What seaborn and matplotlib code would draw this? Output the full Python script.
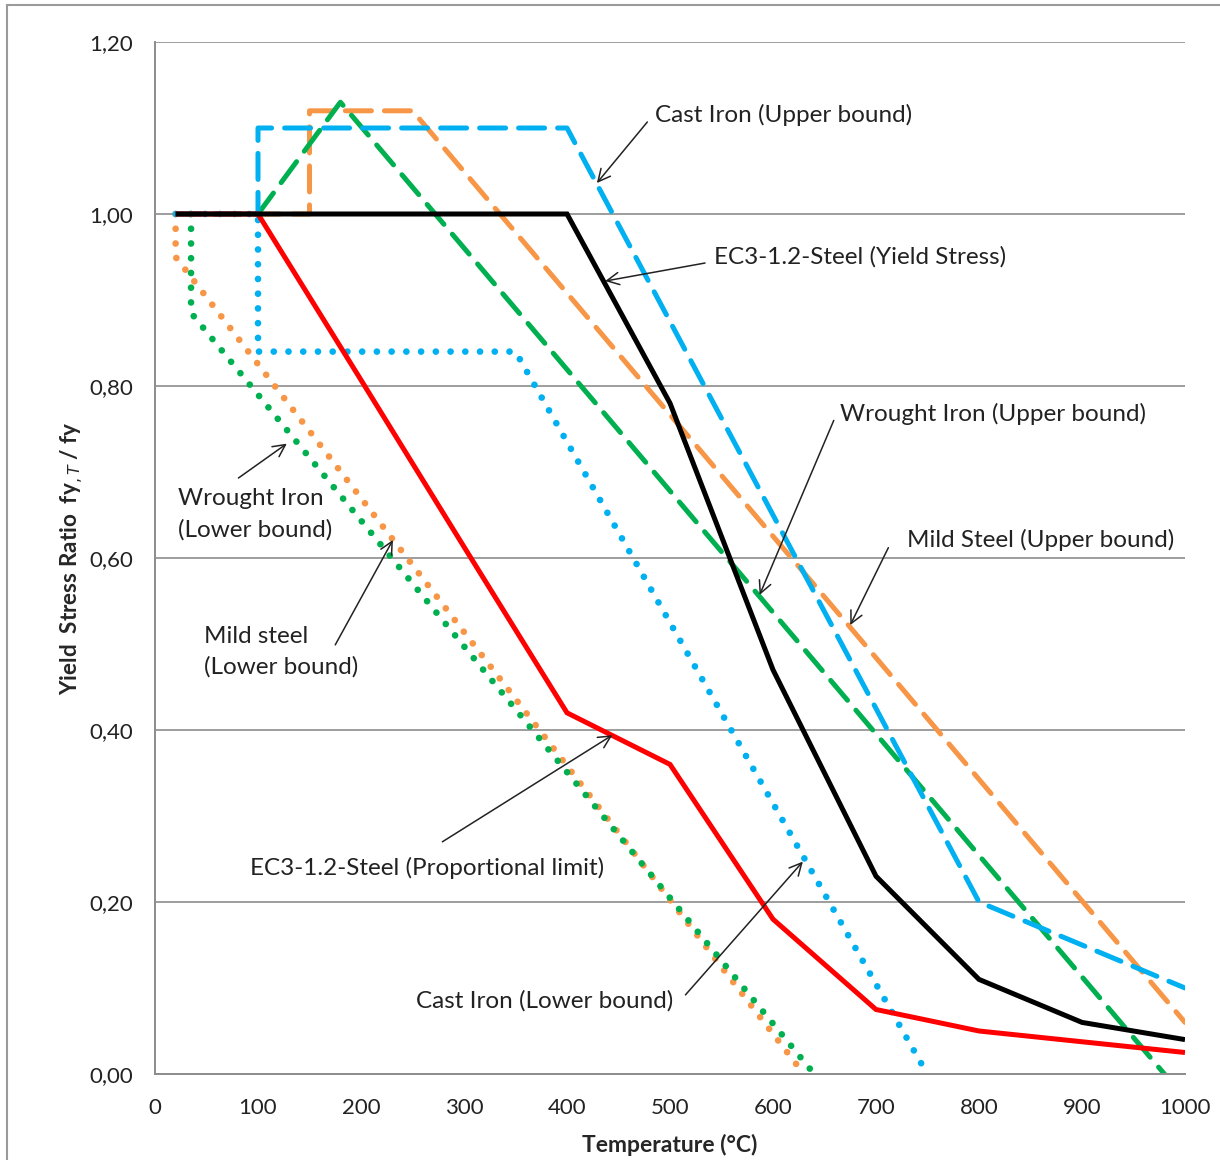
import matplotlib
matplotlib.use("Agg")
import matplotlib.pyplot as plt
from matplotlib.patches import Rectangle
from matplotlib.ticker import FuncFormatter, MultipleLocator
import seaborn as sns
import pandas as pd

# Temperature (°C) and yield stress ratio for each material curve
ec3_yield_t = [20, 100, 200, 300, 400, 500, 600, 700, 800, 900, 1000]
ec3_yield_v = [1.0, 1.0, 1.0, 1.0, 1.0, 0.78, 0.47, 0.23, 0.11, 0.06, 0.04]

ec3_prop_t = [20, 100, 200, 300, 400, 500, 600, 700, 800, 900, 1000]
ec3_prop_v = [1.0, 1.0, 0.807, 0.613, 0.42, 0.36, 0.18, 0.075, 0.05, 0.0375, 0.025]

cast_upper_t = [20, 100, 100, 400, 800, 1000]
cast_upper_v = [1.0, 1.0, 1.1, 1.1, 0.2, 0.1]

cast_lower_t = [20, 100, 100, 350, 745]
cast_lower_v = [1.0, 1.0, 0.84, 0.84, 0.01]

wrought_upper_t = [100, 180, 980]
wrought_upper_v = [1.0, 1.13, 0.0]

mild_upper_t = [20, 150, 150, 250, 1000]
mild_upper_v = [1.0, 1.0, 1.12, 1.12, 0.06]

wrought_lower_t = [35, 35, 640]
wrought_lower_v = [1.0, 0.885, 0.0]

mild_lower_t = [20, 20, 630]
mild_lower_v = [1.0, 0.95, 0.0]

BLUE = "#00B0F0"
ORANGE = "#F79646"
GREEN = "#00B050"
RED = "#FF0000"
BLACK = "#000000"

DOTTED = (0, (0.01, 2.2))
DASHED = (0, (5.2, 2.6))

# (temperatures, values, colour, linestyle, linewidth)
curves = [
    (mild_lower_t, mild_lower_v, ORANGE, DOTTED, 4.8),
    (wrought_lower_t, wrought_lower_v, GREEN, DOTTED, 4.8),
    (cast_lower_t, cast_lower_v, BLUE, DOTTED, 4.8),
    (mild_upper_t, mild_upper_v, ORANGE, DASHED, 3.6),
    (wrought_upper_t, wrought_upper_v, GREEN, DASHED, 3.6),
    (cast_upper_t, cast_upper_v, BLUE, DASHED, 3.6),
    (ec3_prop_t, ec3_prop_v, RED, "-", 3.6),
    (ec3_yield_t, ec3_yield_v, BLACK, "-", 3.6),
]

sns.set_theme(style="white")
plt.rcParams["font.family"] = ["Lato", "DejaVu Sans"]

fig = plt.figure(figsize=(12.2, 11.6), dpi=100)
ax = fig.add_axes([155 / 1220, 1 - 1074 / 1160, 1030 / 1220, 1032 / 1160])

for t, v, color, ls, lw in curves:
    df = pd.DataFrame({"T": t, "ratio": v})
    sns.lineplot(data=df, x="T", y="ratio", color=color, linestyle=ls, lw=lw,
                 sort=False, estimator=None, ax=ax,
                 dash_capstyle="round", dash_joinstyle="round",
                 solid_joinstyle="miter", solid_capstyle="butt")

ax.set_xlim(0, 1000)
ax.set_ylim(0, 1.2)
ax.xaxis.set_major_locator(MultipleLocator(100))
ax.yaxis.set_major_locator(MultipleLocator(0.2))
ax.yaxis.set_major_formatter(FuncFormatter(lambda y, _: f"{y:.2f}".replace(".", ",")))
ax.grid(axis="y", color="#8c8c8c", lw=1.2, zorder=0)
ax.grid(axis="x", visible=False)
ax.set_axisbelow(True)
for side in ("top", "right"):
    ax.spines[side].set_visible(False)
for side in ("left", "bottom"):
    ax.spines[side].set_color("#8c8c8c")
    ax.spines[side].set_linewidth(1.4)
ax.tick_params(axis="both", length=0, labelsize=16, colors="#222222")
ax.tick_params(axis="y", pad=16)
ax.tick_params(axis="x", pad=17)

ax.set_xlabel("Temperature (°C)", fontsize=16.5, fontweight="bold", labelpad=12)
ax.set_ylabel(r"Yield  Stress Ratio  fy$_{,T}$ / fy", fontsize=16.2,
              fontweight="bold", labelpad=2)

# Curve labels with thin arrows
labels = [
    ("Cast Iron (Upper bound)", 485, 1.115, (478, 1.107), (429, 1.036)),
    ("EC3-1.2-Steel (Yield Stress)", 543, 0.950, (534, 0.943), (437, 0.922)),
    ("Wrought Iron (Upper bound)", 665, 0.767, (659, 0.760), (587, 0.557)),
    ("Mild Steel (Upper bound)", 730, 0.621, (712, 0.612), (675, 0.522)),
    ("Wrought Iron\n(Lower bound)", 22, 0.651, (81, 0.693), (128, 0.733)),
    ("Mild steel\n(Lower bound)", 48, 0.491, (175, 0.499), (231, 0.621)),
    ("EC3-1.2-Steel (Proportional limit)", 92, 0.2395, (279, 0.270), (444, 0.394)),
    ("Cast Iron (Lower bound)", 253, 0.085, (515, 0.092), (629, 0.247)),
]
for text, tx, ty, tail, head in labels:
    ax.text(tx, ty, text, fontsize=17.5, color="#222222", ha="left", va="center",
            linespacing=1.55, zorder=6)
    ax.annotate("", xy=head, xytext=tail,
                arrowprops=dict(arrowstyle="->", color="#222222", lw=1.1,
                                mutation_scale=22, shrinkA=0, shrinkB=0),
                zorder=6)

# Chart frame
fig.patches.append(Rectangle((7 / 1220, -0.05), 1.1, 1 - 5 / 1160 + 0.05,
                             transform=fig.transFigure, fill=False,
                             edgecolor="#9a9a9a", lw=1.5))

fig.savefig("out.png", dpi=100)
